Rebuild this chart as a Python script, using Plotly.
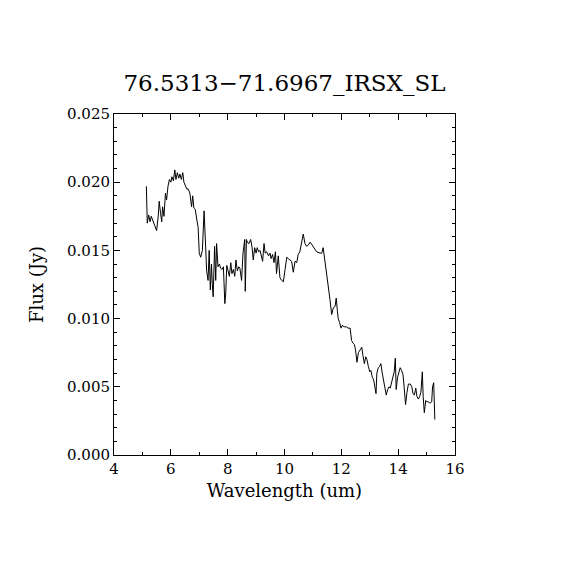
import plotly.graph_objects as go

# IRS SL spectrum
wavelength = [
    5.14, 5.15, 5.17, 5.22, 5.27, 5.31, 5.36, 5.41, 5.50, 5.56,
    5.59, 5.64, 5.68, 5.71, 5.76, 5.81, 5.85, 5.90, 5.95, 6.00,
    6.04, 6.09, 6.14, 6.18, 6.23, 6.28, 6.32, 6.37, 6.42, 6.46,
    6.51, 6.56, 6.61, 6.67, 6.73, 6.77, 6.81, 6.86, 6.91, 6.96,
    7.00, 7.05, 7.11, 7.17, 7.21, 7.26, 7.31, 7.35, 7.39, 7.43,
    7.46, 7.49, 7.54, 7.58, 7.61, 7.66, 7.71, 7.75, 7.80, 7.85,
    7.90, 7.93, 7.97, 8.02, 8.06, 8.11, 8.15, 8.20, 8.25, 8.29,
    8.34, 8.39, 8.43, 8.49, 8.54, 8.60, 8.62, 8.66, 8.69, 8.75,
    8.81, 8.86, 8.90, 8.95, 9.00, 9.04, 9.09, 9.14, 9.18, 9.23,
    9.28, 9.32, 9.37, 9.44, 9.49, 9.53, 9.58, 9.63, 9.68, 9.72,
    9.78, 9.84, 9.90, 9.96, 10.02, 10.08, 10.13, 10.19, 10.25, 10.31,
    10.37, 10.43, 10.48, 10.54, 10.60, 10.66, 10.72, 10.78, 10.84, 10.90,
    10.97, 11.04, 11.13, 11.25, 11.31, 11.36, 11.42, 11.48, 11.54, 11.60,
    11.66, 11.72, 11.78, 11.82, 11.86, 11.89, 11.94, 11.99, 12.03, 12.10,
    12.17, 12.24, 12.31, 12.36, 12.41, 12.46, 12.50, 12.55, 12.60, 12.67,
    12.72, 12.76, 12.81, 12.86, 12.90, 12.95, 13.00, 13.04, 13.09, 13.14,
    13.18, 13.22, 13.25, 13.30, 13.35, 13.39, 13.44, 13.49, 13.54, 13.58,
    13.63, 13.68, 13.72, 13.77, 13.82, 13.86, 13.90, 13.93, 13.98, 14.03,
    14.07, 14.12, 14.17, 14.21, 14.26, 14.31, 14.36, 14.43, 14.48, 14.52,
    14.57, 14.62, 14.66, 14.71, 14.76, 14.80, 14.85, 14.88, 14.92, 14.97,
    15.01, 15.06, 15.12, 15.18, 15.21, 15.25, 15.27, 15.29,
]

flux = [
    0.0197, 0.0187, 0.0170, 0.0176, 0.0171, 0.0175, 0.0172, 0.0169, 0.01645, 0.0176,
    0.0186, 0.0177, 0.0171, 0.0182, 0.0175, 0.0192, 0.0187, 0.0197, 0.0202, 0.0200,
    0.0204, 0.0201, 0.0209, 0.0202, 0.0207, 0.0203, 0.0206, 0.0202, 0.0207, 0.0200,
    0.0197, 0.0195, 0.0195, 0.0192, 0.0182, 0.0190, 0.0181, 0.0180, 0.0173, 0.0167,
    0.0148, 0.0145, 0.0150, 0.0179, 0.0160, 0.0135, 0.0128, 0.0150, 0.0121, 0.0140,
    0.0125, 0.0116, 0.0153, 0.0128, 0.0155, 0.0138, 0.0140, 0.0137, 0.0136, 0.0138,
    0.0111, 0.0118, 0.0139, 0.0134, 0.0131, 0.0141, 0.0133, 0.0136, 0.0131, 0.0143,
    0.0135, 0.0138, 0.0137, 0.0128, 0.0148, 0.0158, 0.0120, 0.0158, 0.0156, 0.0155,
    0.0158, 0.0152, 0.0143, 0.0152, 0.0148, 0.0152, 0.0149, 0.0150, 0.0146, 0.0142,
    0.0155, 0.0148, 0.0149, 0.0146, 0.0148, 0.0144, 0.0147, 0.0141, 0.0149, 0.0133,
    0.0146, 0.0130, 0.0128, 0.0127, 0.0136, 0.0145, 0.0144, 0.0143, 0.0142, 0.0134,
    0.0142, 0.0141, 0.0147, 0.0149, 0.0155, 0.0162, 0.0155, 0.0153, 0.0154, 0.0156,
    0.0154, 0.0152, 0.0149, 0.0148, 0.0148, 0.0152, 0.0143, 0.0136, 0.0126, 0.0114,
    0.0103, 0.0108, 0.0109, 0.0115, 0.0106, 0.0100, 0.0097, 0.0093, 0.0095, 0.0094,
    0.0094, 0.0093, 0.0093, 0.0084, 0.0082, 0.0081, 0.0077, 0.0068, 0.0075, 0.0077,
    0.0079, 0.0073, 0.0067, 0.0072, 0.0070, 0.0065, 0.0061, 0.0062, 0.0057, 0.0055,
    0.0048, 0.0045, 0.0060, 0.0064, 0.0065, 0.0067, 0.0060, 0.0053, 0.0048, 0.0044,
    0.0048, 0.0050, 0.0049, 0.0053, 0.0057, 0.0061, 0.0071, 0.0048, 0.0057, 0.0061,
    0.0064, 0.0062, 0.0059, 0.0050, 0.0037, 0.0046, 0.0052, 0.0052, 0.0050, 0.0045,
    0.0044, 0.0049, 0.0043, 0.0041, 0.0043, 0.0046, 0.0061, 0.0043, 0.0031, 0.0040,
    0.0039, 0.0039, 0.0038, 0.0039, 0.0050, 0.0053, 0.0042, 0.0026,
]

x_ticks = [4, 6, 8, 10, 12, 14, 16]
y_ticks = [0.000, 0.005, 0.010, 0.015, 0.020, 0.025]

FONT = "DejaVu Serif"

fig = go.Figure()
fig.add_trace(go.Scatter(
    x=wavelength, y=flux, mode="lines",
    line=dict(color="black", width=1),
    showlegend=False,
))

axis_common = dict(
    showline=True, linecolor="black", linewidth=1, mirror="ticks",
    ticks="inside", ticklen=6, tickcolor="black",
    showgrid=False, zeroline=False,
    tickfont=dict(family=FONT, size=15, color="black"),
)

fig.update_xaxes(
    range=[4, 16], tickvals=x_ticks,
    minor=dict(dtick=1, ticks="inside", ticklen=3, tickcolor="black"),
    title=dict(text="Wavelength (um)", font=dict(family=FONT, size=18, color="black"), standoff=7),
    **axis_common,
)
fig.update_yaxes(
    range=[0, 0.025], tickvals=y_ticks, tickformat=".3f",
    minor=dict(dtick=0.001, ticks="inside", ticklen=3, tickcolor="black"),
    title=dict(text="Flux (Jy)", font=dict(family=FONT, size=18, color="black"), standoff=18),
    **axis_common,
)

# page body adds 8px, so the figure is a bit smaller and shifted margins
fig.update_layout(
    width=562, height=562, autosize=False,
    margin=dict(l=106, r=115, t=106, b=115),
    paper_bgcolor="white", plot_bgcolor="white",
    title=dict(
        text="76.5313−71.6967_IRSX_SL",
        xref="paper", x=0.5, xanchor="center",
        yref="container", y=1 - 75 / 562, yanchor="middle",
        font=dict(family=FONT, size=23, color="black"),
    ),
)

fig.write_html("out.html")
